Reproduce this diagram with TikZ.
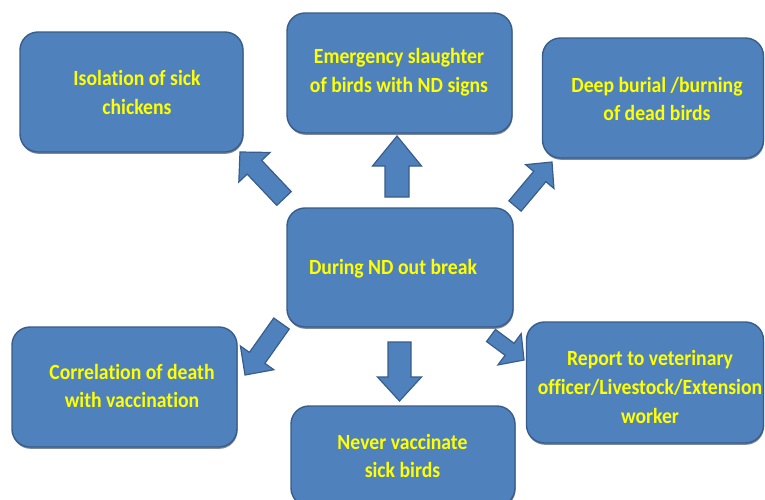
\documentclass[tikz,border=0pt]{standalone}
\usepackage{fontspec}
\setmainfont{Carlito}[Ligatures=NoCommon]
\usetikzlibrary{calc,shadows}

\definecolor{boxfill}{HTML}{4F81BD}
\definecolor{boxline}{HTML}{385D8A}
\definecolor{labelyellow}{HTML}{FFFF00}

\tikzset{
  stepbox/.style={draw=boxline, line width=1.4pt, fill=boxfill,
    rounded corners=18pt, inner sep=0pt,
    drop shadow={shadow xshift=0.5pt, shadow yshift=-1.8pt,
      fill=black!55!boxline, opacity=0.55}},
  boxlabel/.style={text=labelyellow,
    font=\bfseries\fontsize{19.7}{26}\selectfont,
    align=center, inner sep=0pt, yscale=1.1, transform shape},
  blockarrow/.style={draw=boxline, line width=1.2pt, fill=boxfill,
    line join=miter},
}

% block arrow: tail, tip, half shaft width, half head width, head length, name
\newcommand{\blockarr}[6]{%
  \coordinate (#6-h) at ($(#2)!#5!(#1)$);
  \draw[blockarrow]
    ($(#1)!#3!90:(#2)$) -- ($(#6-h)!#3!90:(#2)$) -- ($(#6-h)!#4!90:(#2)$)
    -- (#2)
    -- ($(#6-h)!#4!-90:(#2)$) -- ($(#6-h)!#3!-90:(#2)$) -- ($(#1)!#3!-90:(#2)$)
    -- cycle;
}

\begin{document}
\begin{tikzpicture}[x=1pt, y=-1pt]
  \clip (0,0) rectangle (765,499);
  \fill[white] (0,0) rectangle (765,499);

  % boxes
  \node[stepbox, minimum width=223pt, minimum height=120pt] (iso)  at (131.5,92)  {};
  \node[stepbox, minimum width=225pt, minimum height=120pt] (slau) at (399.5,73)  {};
  \node[stepbox, minimum width=221pt, minimum height=120pt] (bury) at (653,98)    {};
  \node[stepbox, minimum width=226pt, minimum height=119pt] (out)  at (400,267.5) {};
  \node[stepbox, minimum width=225pt, minimum height=120pt] (corr) at (124.5,387) {};
  \node[stepbox, minimum width=224pt, minimum height=100pt] (never) at (403,456) {};
  \node[stepbox, minimum width=237pt, minimum height=121pt] (rep)  at (645,382.5) {};

  % labels
  \node[boxlabel] (isoT)   at (137,92.5)  {Isolation of sick\\chickens};
  \node[boxlabel] (slauT)  at (399,72.5)  {Emergency slaughter\\of birds with ND signs};
  \node[boxlabel] (buryT)  at (657,99)    {Deep burial /burning\\of dead birds};
  \node[boxlabel] (outT)   at (393,269)   {During ND out break};
  \node[boxlabel] (corrT)  at (132,386)   {Correlation of death\\with vaccination};
  \node[boxlabel] (neverT) at (402.5,456) {Never vaccinate\\sick birds};
  \node[boxlabel] (repT)   at (650,387)   {Report to veterinary\\officer/Livestock/Extension\\worker};

  % arrow ends
  \coordinate (upA)  at (397,197);   \coordinate (upB)  at (397,136);
  \coordinate (dnA)  at (399.5,342); \coordinate (dnB)  at (399.5,401);
  \coordinate (ulA)  at (284,198.5); \coordinate (ulB)  at (240,152);
  \coordinate (urA)  at (515,206);   \coordinate (urB)  at (552,162);
  \coordinate (llA)  at (281.5,323.5); \coordinate (llB) at (245,375);
  \coordinate (lrA)  at (491,335.5); \coordinate (lrB)  at (524,360);

  \blockarr{upA}{upB}{12pt}{24.5pt}{30pt}{up}
  \blockarr{dnA}{dnB}{11.5pt}{22pt}{24pt}{dn}
  \blockarr{ulA}{ulB}{10pt}{21.5pt}{21pt}{ul}
  \blockarr{urA}{urB}{8pt}{18.5pt}{19pt}{ur}
  \blockarr{llA}{llB}{9.5pt}{20.5pt}{21pt}{ll}
  \blockarr{lrA}{lrB}{7.5pt}{19.5pt}{18pt}{lr}
\end{tikzpicture}
\end{document}
